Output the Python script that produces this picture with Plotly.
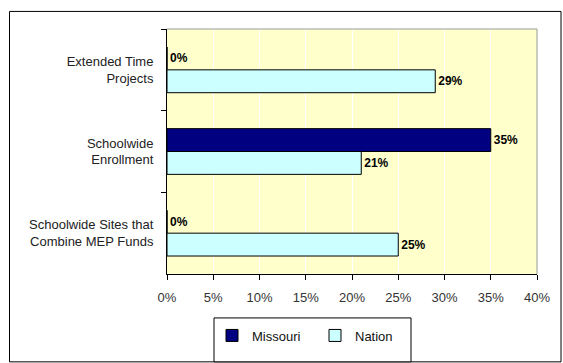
import plotly.graph_objects as go

categories = ["Extended Time<br>Projects", "Schoolwide<br>Enrollment", "Schoolwide Sites that<br>Combine MEP Funds"]
missouri = [0, 35, 0]
nation = [29, 21, 25]
x_ticks = [0, 5, 10, 15, 20, 25, 30, 35, 40]
x_tick_labels = [f"{v}%" for v in x_ticks]

W, H = 563, 363
L, R, T, B = 167, 537, 29, 280
pw, ph = R - L, B - T

def px(x):
    return (x - L) / pw

def py(y):
    return (B - y) / ph

label_font = dict(family="Liberation Sans Narrow, Arial Narrow, Liberation Sans", size=12, color="#000000")

fig = go.Figure()
fig.add_trace(go.Bar(
    y=categories, x=missouri, name="Missouri", orientation="h",
    marker=dict(color="#000080", line=dict(color="#000000", width=1)),
    text=[f"<b>{v}%</b>" for v in missouri], textposition="outside",
    textfont=label_font, cliponaxis=False,
))
fig.add_trace(go.Bar(
    y=categories, x=nation, name="Nation", orientation="h",
    marker=dict(color="#CCFFFF", line=dict(color="#000000", width=1)),
    text=[f"<b>{v}%</b>" for v in nation], textposition="outside",
    textfont=label_font, cliponaxis=False,
))

fig.update_layout(
    width=W, height=H,
    margin=dict(l=L, r=W - R, t=T, b=H - B, pad=0),
    paper_bgcolor="white",
    plot_bgcolor="#FFFFCC",
    barmode="group",
    bargap=0.44,
    bargroupgap=0,
    font=dict(family="Liberation Sans, Arial", size=13, color="#222222"),
    showlegend=True,
    legend=dict(
        orientation="h", x=px(212), y=py(343), xanchor="left", yanchor="middle",
        borderwidth=0, bgcolor="rgba(0,0,0,0)",
        font=dict(family="Liberation Sans, Arial", size=13, color="#111111"),
        traceorder="normal", entrywidth=58, itemwidth=30,
    ),
    xaxis=dict(
        range=[0, 40], tickvals=x_ticks, ticktext=x_tick_labels,
        showgrid=True, gridcolor="white", gridwidth=1,
        ticks="outside", ticklen=5, tickcolor="black",
        showline=True, linecolor="black", linewidth=1,
        zeroline=False, fixedrange=True, ticklabelstandoff=6,
        tickfont=dict(family="Liberation Sans, Arial", size=13, color="#333333"),
    ),
    yaxis=dict(
        autorange="reversed", tickson="boundaries", ticks="outside", ticklen=5,
        tickcolor="black", showline=True, linecolor="black", linewidth=1,
        showgrid=False, fixedrange=True, ticklabelstandoff=10,
        tickfont=dict(family="Liberation Sans, Arial", size=13, color="#222222"),
    ),
    shapes=[
        dict(type="line", xref="paper", yref="paper", x0=0, x1=1, y0=1, y1=1,
             line=dict(color="#999999", width=1)),
        dict(type="line", xref="paper", yref="paper", x0=1, x1=1, y0=0, y1=1,
             line=dict(color="#999999", width=1)),
        dict(type="rect", xref="paper", yref="paper",
             x0=px(9.5), x1=px(561), y0=py(11), y1=py(370),
             line=dict(color="#000000", width=1), layer="below"),
        dict(type="rect", xref="paper", yref="paper",
             x0=px(214), x1=px(411), y0=py(325), y1=py(370),
             line=dict(color="#000000", width=1), fillcolor="white", layer="below"),
    ],
)

fig.write_html("out.html", config={"displayModeBar": False},
               post_script="document.body.style.margin='0';document.body.style.padding='0';")
